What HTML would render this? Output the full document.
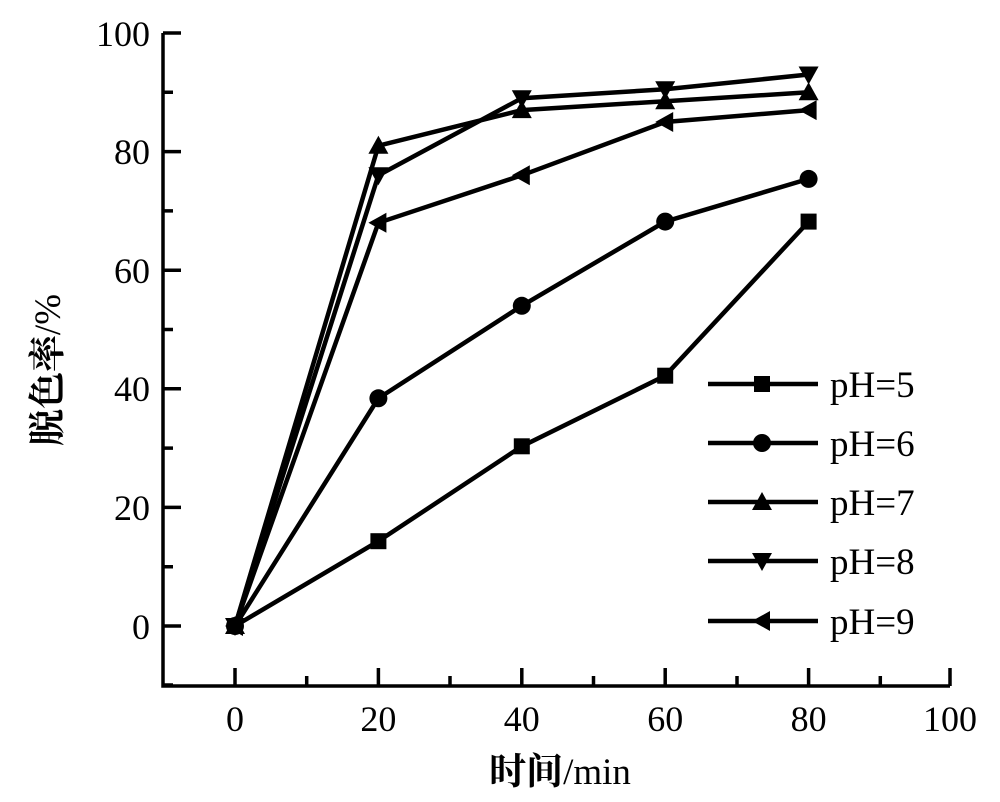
<!DOCTYPE html>
<html><head><meta charset="utf-8"><style>
body{margin:0;background:#fff}
text{font-family:"Liberation Serif","Noto Serif CJK SC",serif;fill:#000}
</style></head><body>
<svg width="1000" height="797" xmlns="http://www.w3.org/2000/svg">
<defs>
<rect id="sq" x="-8" y="-8" width="16" height="16"/>
<circle id="ci" r="9"/>
<polygon id="tu" points="0,-10 10,8 -10,8"/>
<polygon id="td" points="0,10 10,-8 -10,-8"/>
<polygon id="tl" points="-10,0 8,-10 8,10"/>
</defs>
<g stroke="#000" stroke-width="3.5" fill="none">
<path d="M163,33 V686 H950"/>
<path d="M235,686v-18 M306.7,686v-10 M378.4,686v-18 M450,686v-10 M521.8,686v-18 M593.5,686v-10 M665.2,686v-18 M737,686v-10 M808.6,686v-18 M880.3,686v-10 M950,686v-18"/>
<path d="M163,33h18 M163,92.3h10 M163,151.6h18 M163,210.9h10 M163,270.2h18 M163,329.5h10 M163,388.8h18 M163,448.1h10 M163,507.4h18 M163,566.7h10 M163,626h18 M163,685h10"/>
</g>
<g stroke="#000" stroke-width="4.5" fill="none">
<polyline points="235,626 378.4,541.2 521.8,446.3 665.2,375.7 808.6,221.6"/>
<polyline points="235,626 378.4,398.3 521.8,305.8 665.2,221.6 808.6,178.9"/>
<polyline points="235,626 378.4,145.7 521.8,110.1 665.2,101.2 808.6,92.3"/>
<polyline points="235,626 378.4,175.3 521.8,98.2 665.2,89.3 808.6,74.5"/>
<polyline points="235,626 378.4,222.8 521.8,175.3 665.2,122 808.6,110.1"/>
<path d="M708,384h110 M708,443h110 M708,502h110 M708,561h110 M708,621h110"/>
</g>
<g fill="#000">
<use href="#sq" x="235" y="626"/><use href="#sq" x="378.4" y="541.2"/><use href="#sq" x="521.8" y="446.3"/><use href="#sq" x="665.2" y="375.7"/><use href="#sq" x="808.6" y="221.6"/>
<use href="#ci" x="235" y="626"/><use href="#ci" x="378.4" y="398.3"/><use href="#ci" x="521.8" y="305.8"/><use href="#ci" x="665.2" y="221.6"/><use href="#ci" x="808.6" y="178.9"/>
<use href="#tu" x="235" y="626"/><use href="#tu" x="378.4" y="145.7"/><use href="#tu" x="521.8" y="110.1"/><use href="#tu" x="665.2" y="101.2"/><use href="#tu" x="808.6" y="92.3"/>
<use href="#td" x="235" y="626"/><use href="#td" x="378.4" y="175.3"/><use href="#td" x="521.8" y="98.2"/><use href="#td" x="665.2" y="89.3"/><use href="#td" x="808.6" y="74.5"/>
<use href="#tl" x="235" y="626"/><use href="#tl" x="378.4" y="222.8"/><use href="#tl" x="521.8" y="175.3"/><use href="#tl" x="665.2" y="122"/><use href="#tl" x="808.6" y="110.1"/>
<use href="#sq" x="762" y="384"/><use href="#ci" x="762" y="443"/><use href="#tu" x="762" y="502"/><use href="#td" x="762" y="561"/><use href="#tl" x="762" y="621"/>
</g>
<g font-size="37">
<text x="830" y="397">pH=5</text>
<text x="830" y="456">pH=6</text>
<text x="830" y="515">pH=7</text>
<text x="830" y="574">pH=8</text>
<text x="830" y="634">pH=9</text>
</g>
<g font-size="36" text-anchor="middle">
<text x="235" y="731">0</text><text x="378.4" y="731">20</text><text x="521.8" y="731">40</text><text x="665.2" y="731">60</text><text x="808.6" y="731">80</text><text x="950" y="731">100</text>
</g>
<g font-size="36" text-anchor="end">
<text x="150" y="46">100</text><text x="150" y="164">80</text><text x="150" y="283">60</text><text x="150" y="401">40</text><text x="150" y="520">20</text><text x="150" y="639">0</text>
</g>
<text x="560" y="784" font-size="37" text-anchor="middle"><tspan font-weight="bold">时间</tspan>/min</text>
<text transform="translate(60,370) rotate(-90)" font-size="37" text-anchor="middle"><tspan font-weight="bold">脱色率</tspan>/%</text>
</svg>
</body></html>
